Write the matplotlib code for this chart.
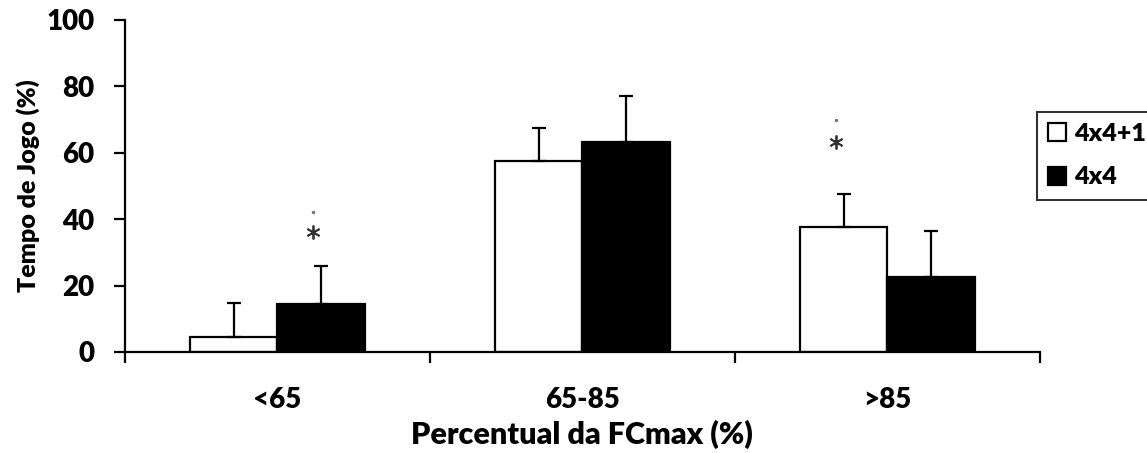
import numpy as np
import matplotlib
matplotlib.use('Agg')
import matplotlib.pyplot as plt

plt.rcParams['font.family'] = ['Lato', 'DejaVu Sans']
plt.rcParams['font.weight'] = 800
plt.rcParams['axes.labelweight'] = 800

# data
categories = ['<65', '65-85', '>85']
series = ['4x4+1', '4x4']
mean_441 = [4.5, 57.5, 37.7]
sd_441 = [10.2, 10.0, 9.9]
mean_44 = [14.3, 63.3, 22.5]
sd_44 = [11.6, 13.9, 14.0]
# significance marks: (category index, series index, asterisk y, dot y)
stars = [(0, 1, 36.0, 42.2), (2, 0, 63.2, 70.0)]

fig = plt.figure(figsize=(11.47, 4.53), dpi=100)
ax = fig.add_axes([0.109, 0.223, 0.7975, 0.733])

x = np.arange(len(categories)) + 0.5
w = 0.286
lw = 1.6

ax.bar(x - w / 2, mean_441, w, color='white', edgecolor='black', linewidth=lw,
       label=series[0], zorder=2)
ax.bar(x + w / 2, mean_44, w, color='black', edgecolor='black', linewidth=lw,
       label=series[1], zorder=2)
ax.errorbar(x - w / 2, mean_441, yerr=[np.zeros(3), sd_441], fmt='none',
            ecolor='black', elinewidth=lw, capsize=5, capthick=lw, zorder=3)
ax.errorbar(x + w / 2, mean_44, yerr=[np.zeros(3), sd_44], fmt='none',
            ecolor='black', elinewidth=lw, capsize=5, capthick=lw, zorder=3)

for ci, si, ys, yd in stars:
    xs = x[ci] + (w / 2 if si == 1 else -w / 2) - 0.025
    ax.plot(xs, ys, marker=(6, 2, 0), markersize=10, mew=1.3, color='#333333',
            linestyle='none')
    ax.plot(xs, yd, marker='o', markersize=1.5, color='#777777', linestyle='none')

ax.set_xlim(0, 3)
ax.set_ylim(0, 100)
ax.set_yticks(np.arange(0, 101, 20))
ax.set_xticks(np.arange(0, 4))
ax.set_xticklabels([])
ax.set_xticks(x, minor=True)
ax.set_xticklabels(categories, minor=True)
ax.tick_params(axis='x', which='minor', length=0, pad=25, labelsize=20)
ax.tick_params(axis='x', which='major', length=8, width=lw, direction='out')
ax.tick_params(axis='y', length=8, width=lw, direction='out', pad=14, labelsize=20)

for s in ['top', 'right']:
    ax.spines[s].set_visible(False)
for s in ['left', 'bottom']:
    ax.spines[s].set_linewidth(lw)

ax.set_ylabel('Tempo de Jogo (%)', fontsize=18, fontweight=800)
ax.yaxis.set_label_coords(-0.093, 0.5)
ax.set_xlabel('Percentual da FCmax (%)', fontsize=22, fontweight=800)
ax.xaxis.set_label_coords(0.5, -0.205)

leg = ax.legend(loc='upper left', bbox_to_anchor=(0.904, 0.753),
                bbox_transform=fig.transFigure, borderaxespad=0,
                fancybox=False, frameon=True, prop={'size': 18, 'weight': 800},
                handlelength=0.72, handleheight=0.72, handletextpad=0.3,
                borderpad=0.45, labelspacing=0.85)
leg.get_frame().set_edgecolor('black')
leg.get_frame().set_linewidth(1.5)

fig.savefig('out.png', dpi=100)
